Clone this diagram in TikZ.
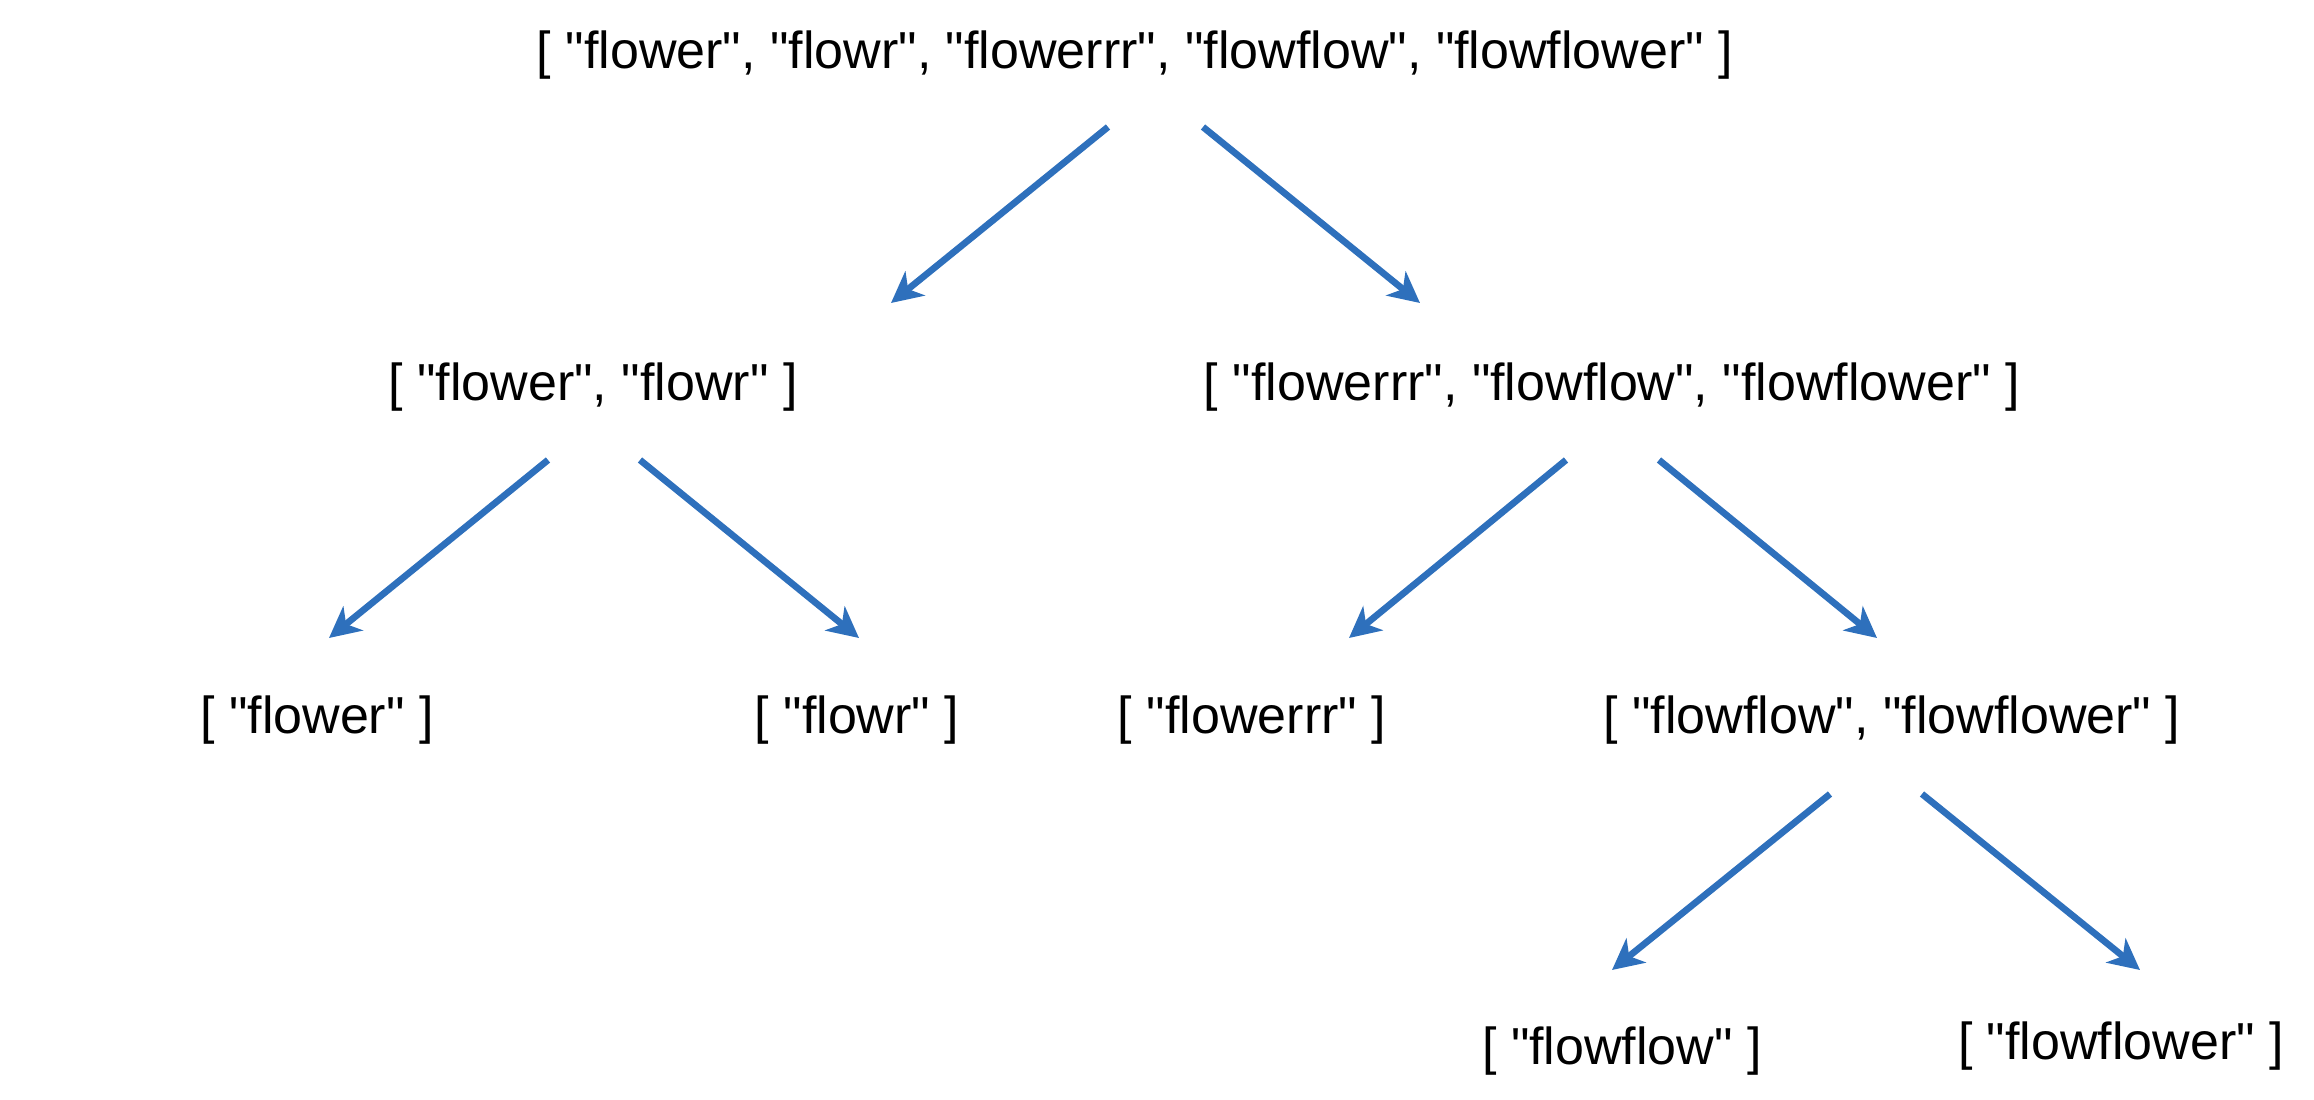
\documentclass[tikz,border=0pt]{standalone}
\usepackage{fontspec}
\setmainfont{Liberation Sans}[Ligatures=TeXOff]
\usetikzlibrary{arrows.meta,calc}
\definecolor{splitblue}{HTML}{2E70BC}
\tikzset{
  listnode/.style={
    inner sep=0pt,
    text=black,
    font=\fontsize{14.8}{18}\selectfont
  },
  splitarrow/.style={
    -{Stealth[length=3.1mm,width=3.1mm,inset=0.9mm]},
    line width=1.9pt,
    draw=splitblue
  }
}
\begin{document}
\begin{tikzpicture}
\useasboundingbox (0,0) rectangle (23.14,-11);
\node[listnode] (root) at (11.35,-0.55) {[ "flower", "flowr", "flowerrr", "flowflow", "flowflower" ]};
\node[listnode] (l) at (5.93,-3.87) {[ "flower", "flowr" ]};
\node[listnode] (r) at (16.12,-3.87) {[ "flowerrr", "flowflow", "flowflower" ]};
\node[listnode] (ll) at (3.17,-7.20) {[ "flower" ]};
\node[listnode] (lr) at (8.57,-7.20) {[ "flowr" ]};
\node[listnode] (rl) at (12.52,-7.20) {[ "flowerrr" ]};
\node[listnode] (rr) at (18.92,-7.20) {[ "flowflow", "flowflower" ]};
\node[listnode] (rrl) at (16.22,-10.51) {[ "flowflow" ]};
\node[listnode] (rrr) at (21.21,-10.46) {[ "flowflower" ]};
\draw[splitarrow] ($(root)+(-0.27,-0.72)$) -- ($(l)+(2.98,0.84)$);
\draw[splitarrow] ($(root)+(0.68,-0.72)$) -- ($(r)+(-1.92,0.84)$);
\draw[splitarrow] ($(l)+(-0.45,-0.73)$) -- ($(ll)+(0.12,0.82)$);
\draw[splitarrow] ($(l)+(0.47,-0.73)$) -- ($(lr)+(0.02,0.82)$);
\draw[splitarrow] ($(r)+(-0.46,-0.73)$) -- ($(rl)+(0.97,0.82)$);
\draw[splitarrow] ($(r)+(0.47,-0.73)$) -- ($(rr)+(-0.15,0.82)$);
\draw[splitarrow] ($(rr)+(-0.62,-0.74)$) -- ($(rrl)+(-0.10,0.81)$);
\draw[splitarrow] ($(rr)+(0.30,-0.74)$) -- ($(rrr)+(0.19,0.76)$);
\end{tikzpicture}
\end{document}
